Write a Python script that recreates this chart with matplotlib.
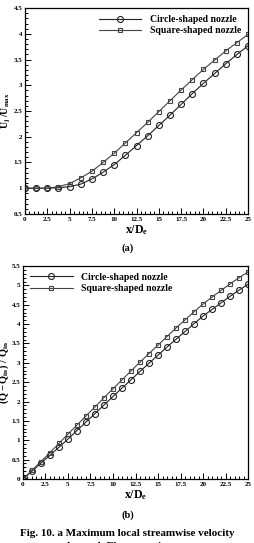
import matplotlib.pyplot as plt
from matplotlib.ticker import MultipleLocator

plt.rcParams['font.family'] = ['Liberation Serif', 'DejaVu Serif']
plt.rcParams['font.weight'] = 'bold'
plt.rcParams['mathtext.fontset'] = 'custom'
plt.rcParams['mathtext.rm'] = 'Liberation Serif'
plt.rcParams['mathtext.it'] = 'Liberation Serif'
plt.rcParams['mathtext.bf'] = 'Liberation Serif:bold'

# (a) velocity decay, points every 1.25 D_e
xa = [0, 1.25, 2.5, 3.75, 5, 6.25, 7.5, 8.75, 10, 11.25, 12.5, 13.75, 15,
      16.25, 17.5, 18.75, 20, 21.25, 22.5, 23.75, 25]
ua_circle = [1.0, 1.0, 1.0, 1.01, 1.03, 1.08, 1.18, 1.31, 1.46, 1.64, 1.83,
             2.02, 2.22, 2.42, 2.63, 2.84, 3.04, 3.23, 3.42, 3.60, 3.77]
ua_square = [1.0, 1.0, 1.0, 1.03, 1.09, 1.20, 1.33, 1.50, 1.68, 1.88, 2.08,
             2.28, 2.49, 2.70, 2.91, 3.11, 3.31, 3.49, 3.67, 3.83, 3.99]

# (b) entrainment, points every 1 D_e
xb = list(range(26))
qb_circle = [0, 0.20, 0.41, 0.61, 0.82, 1.03, 1.25, 1.47, 1.69, 1.91, 2.13,
             2.35, 2.56, 2.78, 2.99, 3.20, 3.41, 3.61, 3.81, 4.01, 4.21,
             4.38, 4.55, 4.72, 4.88, 5.03]
qb_square = [0, 0.22, 0.45, 0.68, 0.92, 1.16, 1.39, 1.63, 1.86, 2.10, 2.33,
             2.56, 2.79, 3.02, 3.24, 3.46, 3.68, 3.90, 4.11, 4.32, 4.52,
             4.70, 4.87, 5.04, 5.20, 5.35]

labels = ['Circle-shaped nozzle', 'Square-shaped nozzle']

fig = plt.figure(figsize=(2.55, 5.43), dpi=100)
ax1 = fig.add_axes([0.098, 0.606, 0.875, 0.379])
ax2 = fig.add_axes([0.090, 0.118, 0.883, 0.392])


def style(ax, xlabel, ylabel, ysize):
    ax.set_xlim(0, 25)
    ax.xaxis.set_major_locator(MultipleLocator(2.5))
    ax.xaxis.set_minor_locator(MultipleLocator(0.5))
    ax.yaxis.set_major_locator(MultipleLocator(0.5))
    ax.yaxis.set_minor_locator(MultipleLocator(0.1))
    ax.xaxis.set_major_formatter(plt.FuncFormatter(lambda v, p: f'{v:g}'))
    ax.yaxis.set_major_formatter(plt.FuncFormatter(lambda v, p: f'{v:g}'))
    ax.tick_params(which='both', direction='in', top=False, right=False,
                   labelsize=5, pad=2, width=0.7)
    ax.tick_params(which='major', length=4)
    ax.tick_params(which='minor', length=2)
    for s in ax.spines.values():
        s.set_linewidth(0.9)
    ax.set_xlabel(xlabel, fontsize=8.5, labelpad=1)
    ax.set_ylabel(ylabel, fontsize=ysize, labelpad=0.5)


def legend(ax, loc):
    ax.legend(loc=loc, frameon=False, prop={'size': 7, 'weight': 'bold'},
              handlelength=4.4, handletextpad=0.9, labelspacing=0.25,
              borderaxespad=0.3)


ax1.plot(xa, ua_circle, color='#222222', lw=0.8, marker='o', ms=4.3,
         mfc='none', mew=0.8, label=labels[0])
ax1.plot(xa, ua_square, color='#444444', lw=0.8, marker='s', ms=3,
         mfc='none', mew=0.8, label=labels[1])
ax1.set_ylim(0.5, 4.5)
style(ax1, '$x/D_e$', '$U_j\\ /U_{max}$', 7)
legend(ax1, 'upper right')

ax2.plot(xb, qb_circle, color='#222222', lw=0.8, marker='o', ms=4.3,
         mfc='none', mew=0.8, label=labels[0])
ax2.plot(xb, qb_square, color='#444444', lw=0.8, marker='s', ms=3,
         mfc='none', mew=0.8, label=labels[1])
ax2.set_ylim(0, 5.5)
style(ax2, '$x/D_e$', '$(Q - Q_{in})\\ /\\ Q_{in}$', 7.5)
legend(ax2, 'upper left')

fig.text(0.5, 0.543, '(a)', ha='center', va='center', fontsize=7.5,
         fontweight='bold')
fig.text(0.5, 0.052, '(b)', ha='center', va='center', fontsize=7.5,
         fontweight='bold')
fig.text(0.5, 0.018, 'Fig. 10. a Maximum local streamwise velocity',
         ha='center', va='center', fontsize=8, fontweight='bold')
fig.text(0.5, -0.006, 'decay; b Flow entrainment', ha='center',
         va='center', fontsize=8, fontweight='bold')

fig.savefig('out.png', dpi=100)
